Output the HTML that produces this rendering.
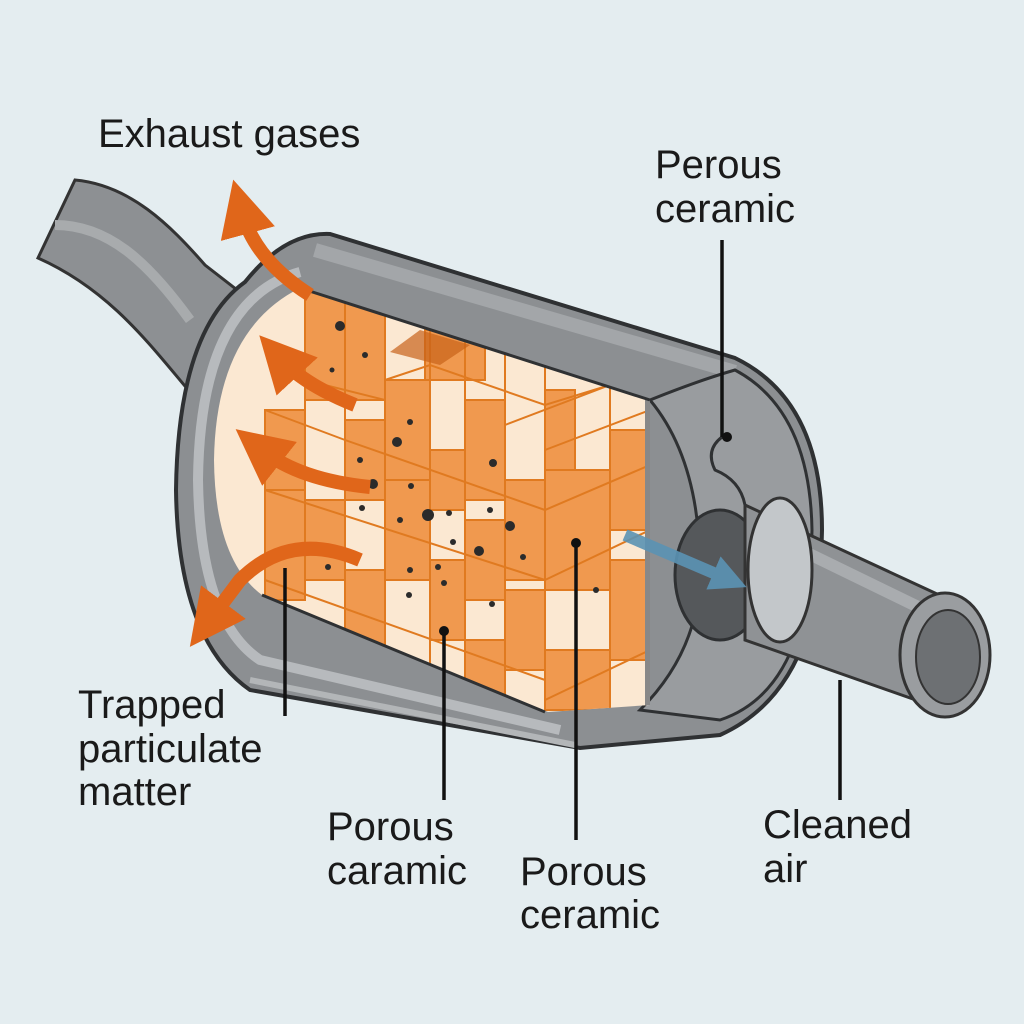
<!DOCTYPE html>
<html><head><meta charset="utf-8"><style>
html,body{margin:0;padding:0;background:#e4edf0}
svg{display:block}
text{font-family:"Liberation Sans",sans-serif;font-size:40px;fill:#1a1a1a}
</style></head><body>
<svg width="1024" height="1024" viewBox="0 0 1024 1024" xmlns="http://www.w3.org/2000/svg">
<defs>
<clipPath id="inner"><path d="M300,288 L650,400 L650,705 L548,712 L262,595 Q215,560 214,460 Q216,330 300,288 Z"/></clipPath>
<marker id="ah" viewBox="0 0 10 10" refX="4" refY="5" markerWidth="4" markerHeight="4" orient="auto"><path d="M0,0 L10,5 L0,10 Z" fill="#e0661a"/></marker>
<marker id="ab" viewBox="0 0 10 10" refX="5" refY="5" markerWidth="3" markerHeight="3" orient="auto"><path d="M0,0 L10,5 L0,10 Z" fill="#5b93b4"/></marker>
</defs>
<rect width="1024" height="1024" fill="#e4edf0"/>
<!-- inlet pipe -->
<path d="M75,180 C130,185 170,225 205,265 L250,300 L190,392 C150,345 110,290 38,258 Z" fill="#8d9093" stroke="#333" stroke-width="3"/>
<path d="M55,225 C110,225 150,265 190,320" fill="none" stroke="#a8abad" stroke-width="10"/>
<!-- shell -->
<path d="M245,282 Q285,232 330,234 L735,358 Q822,400 822,530 Q820,690 720,735 L580,748 L250,690 Q178,640 176,490 Q178,330 245,282 Z" fill="#8c8f92" stroke="#2f3133" stroke-width="4"/>
<path d="M250,680 L575,745" stroke="#b3b6b8" stroke-width="6"/>
<path d="M315,250 L735,372" stroke="#a3a6a9" stroke-width="14"/>
<path d="M300,272 Q200,300 198,480 Q200,620 260,660 L560,730" fill="none" stroke="#b7babd" stroke-width="10"/>
<!-- right cap -->
<path d="M650,400 Q700,380 735,370 Q810,410 812,530 Q810,690 720,720 L640,710 Q700,650 700,570 Q700,460 650,400 Z" fill="#999c9f" stroke="#2f3133" stroke-width="3"/>
<ellipse cx="720" cy="575" rx="45" ry="65" fill="#55585b" stroke="#2f3133" stroke-width="3"/>
<path d="M745,505 L950,600 L950,712 L745,640 Z" fill="#8f9295" stroke="#333" stroke-width="3"/>
<path d="M760,530 L945,620" stroke="#a9acaf" stroke-width="12"/>
<ellipse cx="945" cy="655" rx="45" ry="62" fill="#9a9da0" stroke="#333" stroke-width="3"/>
<ellipse cx="948" cy="657" rx="32" ry="47" fill="#6d7073" stroke="#333" stroke-width="2"/>
<ellipse cx="780" cy="570" rx="32" ry="72" fill="#c3c7ca" stroke="#333" stroke-width="3"/>
<path d="M722,437 Q705,450 715,470 Q740,480 745,505" fill="none" stroke="#2f3133" stroke-width="3"/>
<!-- interior -->
<g clip-path="url(#inner)">
<rect x="200" y="270" width="460" height="450" fill="#fbe8d2"/>
<g fill="#f0994f" stroke="#e07a20" stroke-width="2">
<rect x="305" y="290" width="80" height="110"/>
<rect x="425" y="330" width="60" height="50"/>
<rect x="265" y="410" width="40" height="80"/>
<rect x="345" y="420" width="40" height="80"/>
<rect x="385" y="380" width="45" height="100"/>
<rect x="465" y="400" width="40" height="100"/>
<rect x="545" y="390" width="30" height="100"/>
<rect x="265" y="490" width="40" height="110"/>
<rect x="305" y="500" width="40" height="80"/>
<rect x="385" y="480" width="45" height="100"/>
<rect x="430" y="450" width="35" height="60"/>
<rect x="465" y="520" width="40" height="80"/>
<rect x="505" y="480" width="40" height="100"/>
<rect x="545" y="470" width="65" height="120"/>
<rect x="610" y="430" width="40" height="100"/>
<rect x="345" y="570" width="40" height="80"/>
<rect x="430" y="560" width="35" height="80"/>
<rect x="505" y="590" width="40" height="80"/>
<rect x="545" y="650" width="65" height="60"/>
<rect x="610" y="560" width="40" height="100"/>
<rect x="465" y="640" width="40" height="60"/>
</g>
<g stroke="#e07a20" stroke-width="2" fill="none">
<path d="M305,290V600 M345,290V640 M385,300V660 M430,320V680 M465,330V690 M505,340V700 M545,360V710 M610,380V710"/>
<path d="M385,380 L430,365 L545,405 L610,385 M505,425 L610,385 M545,450 L650,410 M545,580 L650,530 M545,700 L650,650"/>
<path d="M265,410 L345,440 L545,510 L650,465 M265,490 L545,580 M265,580 L545,680 M305,380 L385,400"/>
</g>
<path d="M420,330 L470,345 L440,365 L390,352 Z" fill="#c8621a" opacity=".7"/>
<g fill="#2b2b2b">
<circle cx="340" cy="326" r="5"/><circle cx="365" cy="355" r="3"/><circle cx="332" cy="370" r="2.5"/>
<circle cx="397" cy="442" r="5"/><circle cx="410" cy="422" r="3"/><circle cx="360" cy="460" r="3"/>
<circle cx="373" cy="484" r="5"/><circle cx="411" cy="486" r="3"/><circle cx="362" cy="508" r="3"/>
<circle cx="428" cy="515" r="6"/><circle cx="449" cy="513" r="3"/><circle cx="400" cy="520" r="3"/>
<circle cx="490" cy="510" r="3"/><circle cx="510" cy="526" r="5"/><circle cx="453" cy="542" r="3"/>
<circle cx="479" cy="551" r="5"/><circle cx="523" cy="557" r="3"/><circle cx="410" cy="570" r="3"/>
<circle cx="438" cy="567" r="3"/><circle cx="492" cy="604" r="3"/><circle cx="409" cy="595" r="3"/>
<circle cx="444" cy="583" r="3"/><circle cx="493" cy="463" r="4"/><circle cx="596" cy="590" r="3"/>
<circle cx="328" cy="567" r="3"/>
</g>
<path d="M650,400 L650,705" stroke="#888" stroke-width="10"/>
</g>
<path d="M300,288 L650,400 M545,712 L262,595" fill="none" stroke="#2f3133" stroke-width="3"/>
<!-- arrows -->
<g fill="none" stroke="#e0661a" stroke-width="14" stroke-linecap="butt">
<path d="M310,295 Q255,260 242,212" marker-end="url(#ah)"/>
<path d="M355,405 Q305,385 282,360" marker-end="url(#ah)"/>
<path d="M370,487 Q300,480 262,450" marker-end="url(#ah)"/>
<path d="M360,560 Q290,530 240,580 L210,620" marker-end="url(#ah)"/>
</g>
<path d="M625,535 L730,580" stroke="#5b93b4" stroke-width="12" marker-end="url(#ab)" opacity=".9"/>
<!-- leaders -->
<g stroke="#111" stroke-width="3.5">
<path d="M285,568V716 M444,631V800 M576,543V840 M722,240V437 M840,680V800"/>
</g>
<g fill="#111"><circle cx="444" cy="631" r="5"/><circle cx="576" cy="543" r="5"/><circle cx="727" cy="437" r="5"/></g>
<!-- labels -->
<text x="98" y="147">Exhaust gases</text>
<text x="655" y="178">Perous</text>
<text x="655" y="222">ceramic</text>
<text x="78" y="718">Trapped</text>
<text x="78" y="762">particulate</text>
<text x="78" y="805">matter</text>
<text x="327" y="840">Porous</text>
<text x="327" y="884">caramic</text>
<text x="520" y="885">Porous</text>
<text x="520" y="928">ceramic</text>
<text x="763" y="838">Cleaned</text>
<text x="763" y="882">air</text>
</svg>
</body></html>
